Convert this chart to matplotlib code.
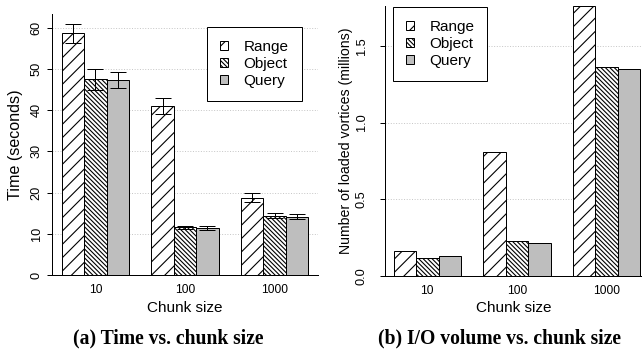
import matplotlib
matplotlib.use('Agg')
import matplotlib.pyplot as plt
import numpy as np

plt.rcParams['font.family'] = ['Liberation Sans', 'DejaVu Sans']
plt.rcParams['hatch.linewidth'] = 1.0
plt.rcParams['hatch.color'] = 'black'

# data
chunk_sizes = ['10', '100', '1000']
series = ['Range', 'Object', 'Query']

time_range = [58.6, 41.0, 18.8]
time_object = [47.5, 11.55, 14.4]
time_query = [47.3, 11.35, 14.1]
time_range_err = [2.4, 1.9, 1.0]
time_object_err = [2.6, 0.35, 0.6]
time_query_err = [2.0, 0.55, 0.6]

io_range = [0.163, 0.81, 1.76]
io_object = [0.113, 0.224, 1.361]
io_query = [0.128, 0.216, 1.348]

hatches = ['//', '\\' * 6, '']
fills = ['white', 'white', '#bebebe']

# R-style barplot layout: bars of width 1, one bar gap between groups
DPI = 80
fig = plt.figure(figsize=(642 / DPI, 353 / DPI), dpi=DPI)

ax1 = fig.add_axes([52 / 642, 78 / 353, 266 / 642, 261.3 / 353])
ax2 = fig.add_axes([385 / 642, 77.3 / 353, 257 / 642, 269.5 / 353])

group_x = np.arange(len(chunk_sizes)) * 4


def draw(ax, vals, errs=None, ytick_pad=4):
    for i, v in enumerate(vals):
        xs = group_x + 1.5 + i
        ax.bar(xs, v, width=1.0, color=fills[i], edgecolor='black',
               linewidth=0.9, hatch=hatches[i], label=series[i], zorder=2)
        if errs is not None:
            ax.errorbar(xs, v, yerr=errs[i], fmt='none', ecolor='black',
                        elinewidth=0.9, capsize=6.8, capthick=0.9, zorder=3)
    ax.set_xticks(group_x + 2.5)
    ax.set_xticklabels(chunk_sizes)
    ax.tick_params(axis='x', length=0, pad=8, labelsize=10.8)
    ax.tick_params(axis='y', length=4.5, width=0.9, pad=ytick_pad,
                   labelsize=11.5)
    for s in ['top', 'right']:
        ax.spines[s].set_visible(False)
    for s in ['left', 'bottom']:
        ax.spines[s].set_linewidth(0.9)
    ax.set_xlabel('Chunk size', fontsize=13.7)
    ax.xaxis.label.set_va('center')
    leg = ax.legend(fontsize=13.7, fancybox=False, edgecolor='black',
                    framealpha=1, handlelength=0.5, handleheight=0.5,
                    handletextpad=1.05, labelspacing=0.2, borderpad=0.85,
                    borderaxespad=0, loc='upper left')
    leg.get_frame().set_linewidth(0.9)
    return leg


# (a) time
draw(ax1, [time_range, time_object, time_query],
     [time_range_err, time_object_err, time_query_err])
ax1.set_xlim(0.56, 12.44)
ax1.set_ylim(0, 63.4)
ax1.set_yticks([0, 10, 20, 30, 40, 50, 60])
for lbl in ax1.get_yticklabels():
    lbl.set_rotation(90)
    lbl.set_va('center')
for t in [10, 20, 30, 40, 50, 60]:
    ax1.axhline(t, color='#c8c8c8', linestyle=':', linewidth=0.9, zorder=0)
ax1.set_ylabel('Time (seconds)', fontsize=14.5)
ax1.yaxis.label.set_va('center')
ax1.yaxis.set_label_coords(-0.139, 0.5)
ax1.xaxis.set_label_coords(0.5, -0.126)
ax1.get_legend().set_bbox_to_anchor((0.583, 0.949), transform=ax1.transAxes)

# (b) I/O volume
draw(ax2, [io_range, io_object, io_query], ytick_pad=11)
ax2.set_xlim(0.61, 12.08)
ax2.set_ylim(0, 1.76)
ax2.set_yticks([0.0, 0.5, 1.0, 1.5])
ax2.set_yticklabels(['0.0', '0.5', '1.0', '1.5'])
for lbl in ax2.get_yticklabels():
    lbl.set_rotation(90)
    lbl.set_va('center')
for t in [0.5, 1.0, 1.5]:
    ax2.axhline(t, color='#c8c8c8', linestyle=':', linewidth=0.9, zorder=0)
ax2.set_ylabel('Number of loaded vortices (millions)', fontsize=12.7)
ax2.yaxis.label.set_va('center')
ax2.yaxis.set_label_coords(-0.152, 0.5)
ax2.xaxis.set_label_coords(0.5, -0.12)
ax2.get_legend().set_bbox_to_anchor((0.031, 0.997), transform=ax2.transAxes)

fig.text(168 / 642, 1 - 338 / 353, '(a) Time vs. chunk size', ha='center',
         va='center', fontsize=17.7, fontweight='bold',
         family=['Liberation Serif', 'DejaVu Serif'])
fig.text(500 / 642, 1 - 338 / 353, '(b) I/O volume vs. chunk size',
         ha='center', va='center', fontsize=17.7, fontweight='bold',
         family=['Liberation Serif', 'DejaVu Serif'])

fig.savefig('out.png', dpi=DPI)
